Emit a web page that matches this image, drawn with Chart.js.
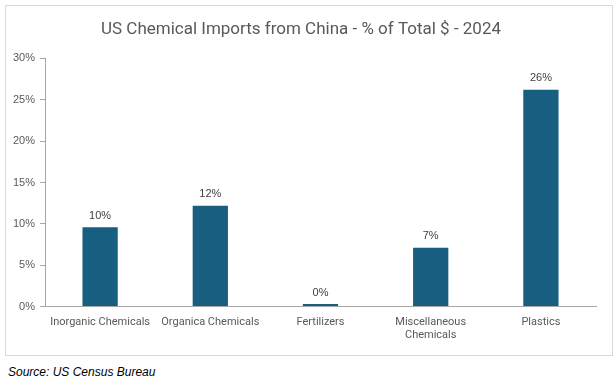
<!DOCTYPE html>
<html>
<head>
<meta charset="utf-8">
<script src="https://cdn.jsdelivr.net/npm/chart.js@4"></script>
<style>
  body { margin: 0; background: #fff; width: 616px; height: 383px; overflow: hidden; }
  #box { position: absolute; left: 5px; top: 5px; width: 606px; height: 349px; border: 1px solid #d9d9d9; }
  #source { position: absolute; left: 8px; top: 365px; font: italic 12px "Liberation Sans", Arial, sans-serif; color: #000; }
</style>
</head>
<body>
<div id="box"><canvas id="mainChart" width="606" height="349"></canvas></div>
<div id="source">Source: US Census Bureau</div>
<script>
// Chart data
const categories = ["Inorganic Chemicals", "Organica Chemicals", "Fertilizers", ["Miscellaneous", "Chemicals"], "Plastics"];
const shareOfTotal = [9.6, 12.2, 0.3, 7.1, 26.2];
const yTicks = [0, 5, 10, 15, 20, 25, 30];

// Draw value labels above each bar
const barLabels = {
    id: "barLabels",
    afterDatasetsDraw(chart) {
        const ctx = chart.ctx;
        const meta = chart.getDatasetMeta(0);
        ctx.save();
        ctx.font = "11px 'Liberation Sans', Arial, sans-serif";
        ctx.fillStyle = "#404040";
        ctx.textAlign = "center";
        ctx.textBaseline = "bottom";
        meta.data.forEach((bar, i) => {
            ctx.fillText(Math.round(shareOfTotal[i]) + "%", bar.x, bar.y - 6);
        });
        ctx.restore();
    }
};

const ctx = document.getElementById("mainChart").getContext("2d");
new Chart(ctx, {
    type: "bar",
    data: {
        labels: categories,
        datasets: [{
            data: shareOfTotal,
            backgroundColor: "#175e80",
            categoryPercentage: 1,
            barPercentage: 0.32
        }]
    },
    options: {
        responsive: false,
        animation: false,
        layout: { padding: { left: 0, right: 16, top: 0, bottom: 12 } },
        plugins: {
            legend: { display: false },
            tooltip: { enabled: false },
            title: {
                display: true,
                text: "US Chemical Imports from China - % of Total $ - 2024",
                color: "#595959",
                font: { family: "Roboto", size: 17, weight: "normal" },
                padding: { top: 14, bottom: 18 }
            }
        },
        scales: {
            x: {
                grid: { display: false },
                border: { display: true, color: "#a6a6a6" },
                ticks: {
                    color: "#595959",
                    font: { family: "Roboto", size: 11 },
                    maxRotation: 0,
                    autoSkip: false,
                    padding: 1
                }
            },
            y: {
                min: 0,
                max: 30,
                afterBuildTicks(axis) {
                    axis.ticks = yTicks.map(v => ({ value: v }));
                },
                afterFit(axis) { axis.width = 39; },
                grid: { drawOnChartArea: false, drawTicks: true, tickLength: 5, color: "#a6a6a6" },
                border: { display: true, color: "#a6a6a6" },
                ticks: {
                    color: "#595959",
                    font: { family: "'Liberation Sans', Arial", size: 11 },
                    padding: 5,
                    callback: v => v + "%"
                }
            }
        }
    },
    plugins: [barLabels]
});
</script>
</body>
</html>
